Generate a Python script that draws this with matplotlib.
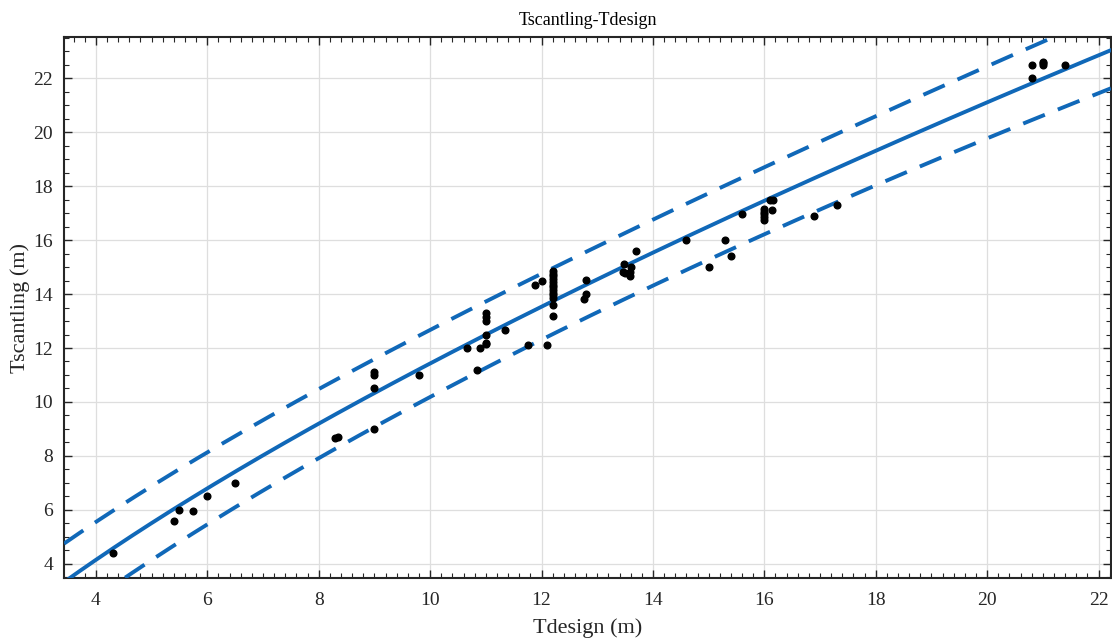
import numpy as np
import matplotlib
matplotlib.use("Agg")
import matplotlib.pyplot as plt
from matplotlib.ticker import MultipleLocator

plt.rcParams['font.family'] = ['Liberation Serif', 'DejaVu Serif']

# Observed data (Tdesign, Tscantling)
t_design = [4.3, 5.4, 5.5, 5.75, 6.0, 6.5,
            8.3, 8.35, 9.0, 9.0, 9.0, 9.0, 9.8,
            10.67, 10.85, 10.9, 11.0, 11.0, 11.0, 11.0, 11.0, 11.0, 11.35, 11.75,
            11.88, 12.0, 12.1,
            12.2, 12.2, 12.2, 12.2, 12.2, 12.2, 12.2, 12.2, 12.2, 12.2, 12.2, 12.2, 12.2,
            12.76, 12.8, 12.8,
            13.48, 13.46, 13.5, 13.58, 13.58, 13.6, 13.69,
            14.6, 15.0, 15.3, 15.4, 15.6,
            16.0, 16.0, 16.0, 16.0, 16.0, 16.13, 16.1, 16.16,
            16.9, 17.3,
            20.8, 20.8, 21.0, 21.0, 21.0, 21.4]
t_scant = [4.4, 5.6, 6.0, 5.95, 6.5, 7.0,
           8.65, 8.7, 9.0, 10.5, 11.0, 11.1, 11.0,
           12.0, 11.2, 12.0, 12.15, 12.5, 13.0, 13.15, 13.3, 12.2, 12.65, 12.1,
           14.35, 14.48, 12.1,
           14.85, 14.75, 14.65, 14.55, 14.45, 14.35, 14.25, 14.15, 14.05, 13.95, 13.85, 13.6, 13.2,
           13.8, 14.0, 14.52,
           15.1, 14.83, 14.77, 14.83, 14.67, 15.0, 15.6,
           16.0, 15.0, 16.0, 15.4, 16.95,
           17.15, 17.05, 16.95, 16.85, 16.75, 17.1, 17.5, 17.5,
           16.9, 17.3,
           22.5, 22.0, 22.6, 22.5, 22.55, 22.5]

# Fitted model: y = a * x**b + c, with prediction bounds
fit_a, fit_b, fit_c = 2.967, 0.71, -3.79
bound_d0, bound_xm, bound_k = 1.22, 13.0, 0.004

x_lim = (3.43, 22.22)
y_lim = (3.48, 23.52)
x_ticks = [4, 6, 8, 10, 12, 14, 16, 18, 20, 22]
y_ticks = [4, 6, 8, 10, 12, 14, 16, 18, 20, 22]

line_color = '#1068b8'

fig = plt.figure(figsize=(11.12, 6.44), dpi=100)
ax = fig.add_axes([0.0576, 0.1025, 0.9414, 0.84])

xs = np.linspace(x_lim[0], x_lim[1], 400)
yfit = fit_a * xs ** fit_b + fit_c
delta = bound_d0 * np.sqrt(1 + bound_k * (xs - bound_xm) ** 2)

ax.plot(xs, yfit, color=line_color, lw=2.8, zorder=3)
ax.plot(xs, yfit + delta, color=line_color, lw=2.8, ls=(0, (6.0, 3.6)), zorder=3)
ax.plot(xs, yfit - delta, color=line_color, lw=2.8, ls=(0, (6.0, 3.6)), zorder=3)
ax.plot(t_design, t_scant, 'o', color='black', ms=4.8, zorder=4)

ax.set_xlim(*x_lim)
ax.set_ylim(*y_lim)
ax.set_xticks(x_ticks)
ax.set_yticks(y_ticks)
ax.xaxis.set_minor_locator(MultipleLocator(0.2))
ax.yaxis.set_minor_locator(MultipleLocator(0.5))
ax.tick_params(which='both', direction='in', top=True, right=True, labelsize=14, colors='#262626')
ax.tick_params(axis='x', which='major', pad=10)
ax.tick_params(axis='y', which='major', pad=8)
ax.tick_params(which='major', length=6, width=1.0)
ax.tick_params(which='minor', length=3.5, width=0.8)
ax.grid(True, which='major', color='#dedede', lw=0.9)
ax.set_axisbelow(True)
for s in ax.spines.values():
    s.set_linewidth(1.5)
    s.set_color('#262626')

ax.set_xlabel('Tdesign (m)', fontsize=16, color='#262626', labelpad=7)
ax.set_ylabel('Tscantling (m)', fontsize=16, color='#262626', labelpad=2)
ax.set_title('Tscantling-Tdesign', fontsize=13, color='#000000', pad=9)

fig.savefig('out.png', dpi=100)
